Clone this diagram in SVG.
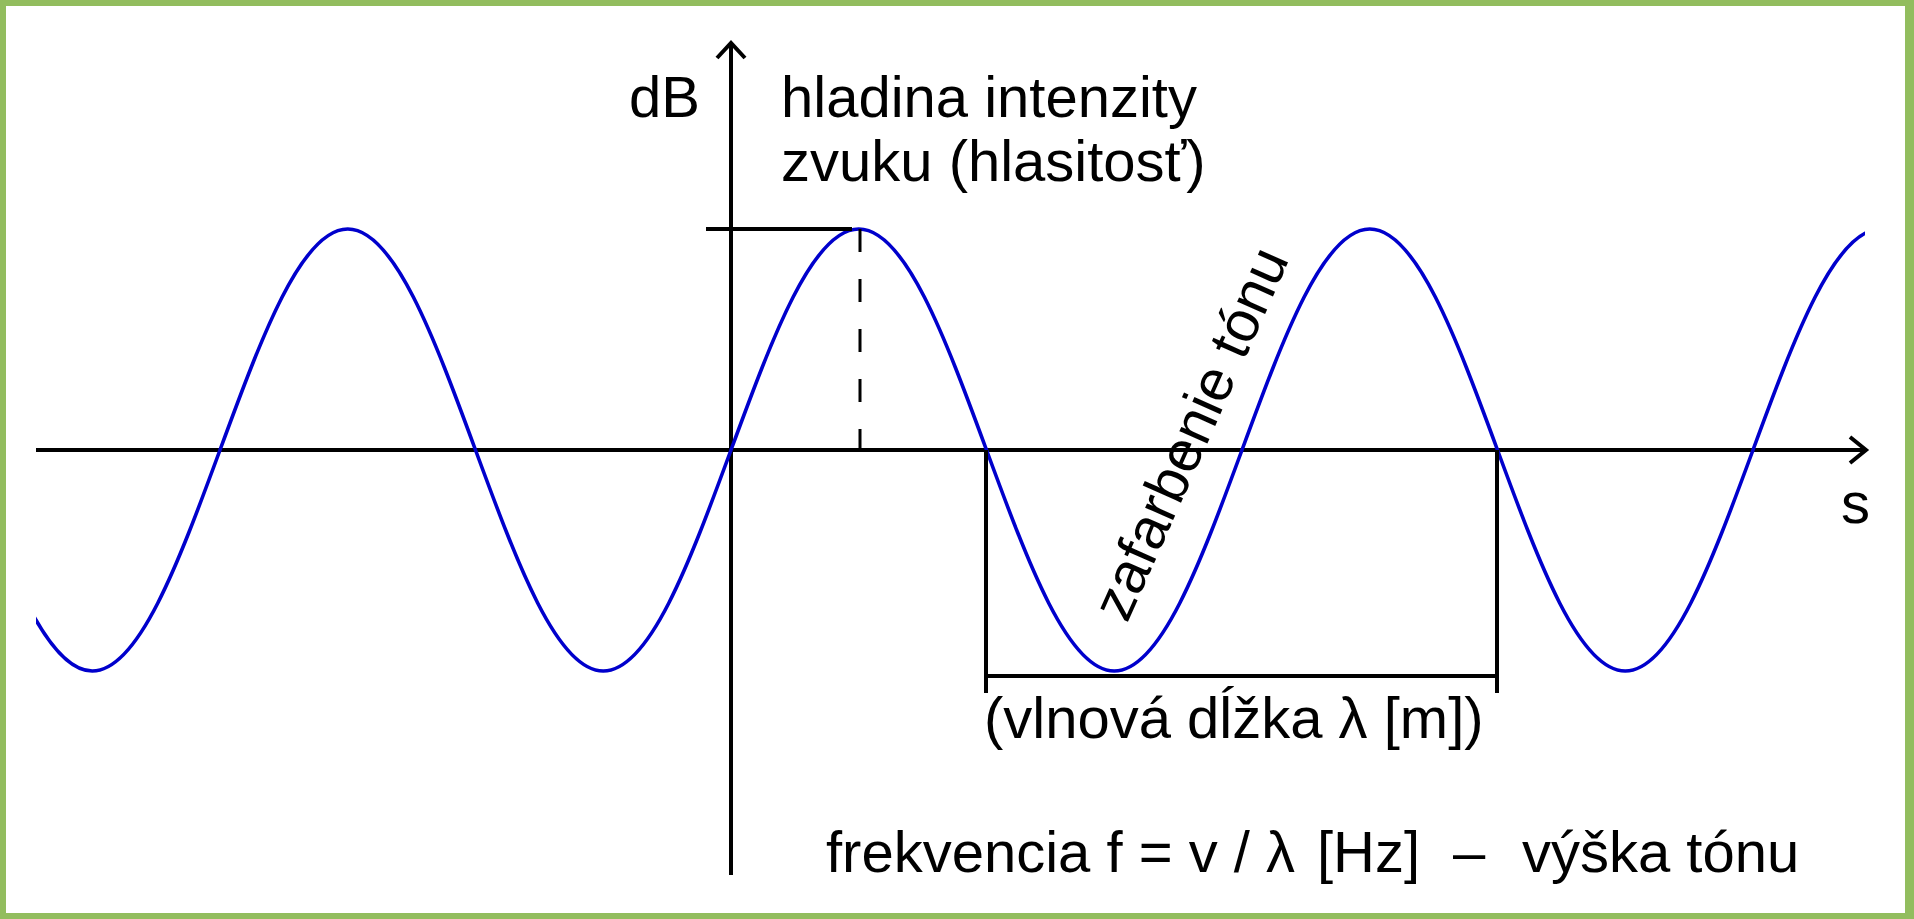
<svg xmlns="http://www.w3.org/2000/svg" width="1914" height="919" viewBox="0 0 1914 919">
<style>
.ax{stroke:#000;stroke-width:4;fill:none}
.dash{stroke:#000;stroke-width:3;fill:none;stroke-dasharray:23 27}
.wave{stroke:#0000cc;stroke-width:3.6;fill:none}
.lbl{font-family:"Liberation Sans",Arial,sans-serif;font-size:58px;fill:#000;white-space:pre}
</style>
<defs>
<clipPath id="clipW"><rect x="36" y="0" width="1829" height="919"/></clipPath>
</defs>
<rect x="0" y="0" width="1914" height="919" fill="#fff"/>
<g id="frame" fill="#92bd5e">
<rect x="0" y="0" width="1914" height="6"/>
<rect x="0" y="913" width="1914" height="6"/>
<rect x="0" y="0" width="6" height="919"/>
<rect x="1905" y="0" width="9" height="919"/>
</g>
<g id="axes">
<line class="ax" x1="36" y1="450" x2="1866" y2="450"/>
<polyline class="ax" points="1850,437 1866,450 1850,463"/>
<line class="ax" x1="731" y1="43" x2="731" y2="875"/>
<polyline class="ax" points="717,58 731,43 745,58"/>
</g>
<g id="wave" clip-path="url(#clipW)">
<path class="wave" d="M -35.5,450 C 6.16,563.2 46.02,671 92.25,671 C 138.48,671 178.34,563.2 220,450 C 261.66,336.8 301.52,229 347.75,229 C 393.98,229 433.84,336.8 475.5,450 C 517.16,563.2 557.02,671 603.25,671 C 649.48,671 689.34,563.2 731,450 C 772.66,336.8 812.52,229 858.75,229 C 904.98,229 944.84,336.8 986.5,450 C 1028.16,563.2 1068.02,671 1114.25,671 C 1160.48,671 1200.34,563.2 1242,450 C 1283.66,336.8 1323.52,229 1369.75,229 C 1415.98,229 1455.84,336.8 1497.5,450 C 1539.16,563.2 1579.02,671 1625.25,671 C 1671.48,671 1711.34,563.2 1753,450 C 1794.66,336.8 1834.52,229 1880.75,229"/>
</g>
<g id="connectors">
<line class="ax" x1="706" y1="229" x2="852" y2="229"/>
<line class="dash" x1="860" y1="229" x2="860" y2="450"/>
<line class="ax" x1="986" y1="450" x2="986" y2="693"/>
<line class="ax" x1="1497" y1="450" x2="1497" y2="693"/>
<line class="ax" x1="986" y1="676" x2="1497" y2="676"/>
</g>
<g id="label-db"><text class="lbl" x="629" y="117">dB</text></g>
<g id="label-intensity">
<text class="lbl" x="781" y="117">hladina intenzity</text>
<text class="lbl" x="781" y="181">zvuku (hlasitosť)</text>
</g>
<g id="label-s"><text class="lbl" x="1841" y="523">s</text></g>
<g id="label-timbre"><text class="lbl" transform="translate(1127,624) rotate(-66)">zafarbenie tónu</text></g>
<g id="label-wavelength"><text class="lbl" x="984" y="738">(vlnová dĺžka λ [m])</text></g>
<g id="label-frequency">
<text class="lbl" y="872"><tspan x="826">frekvencia f = v / λ</tspan><tspan x="1317">[Hz]</tspan><tspan x="1453">–</tspan><tspan x="1522">výška tónu</tspan></text>
</g>
</svg>
